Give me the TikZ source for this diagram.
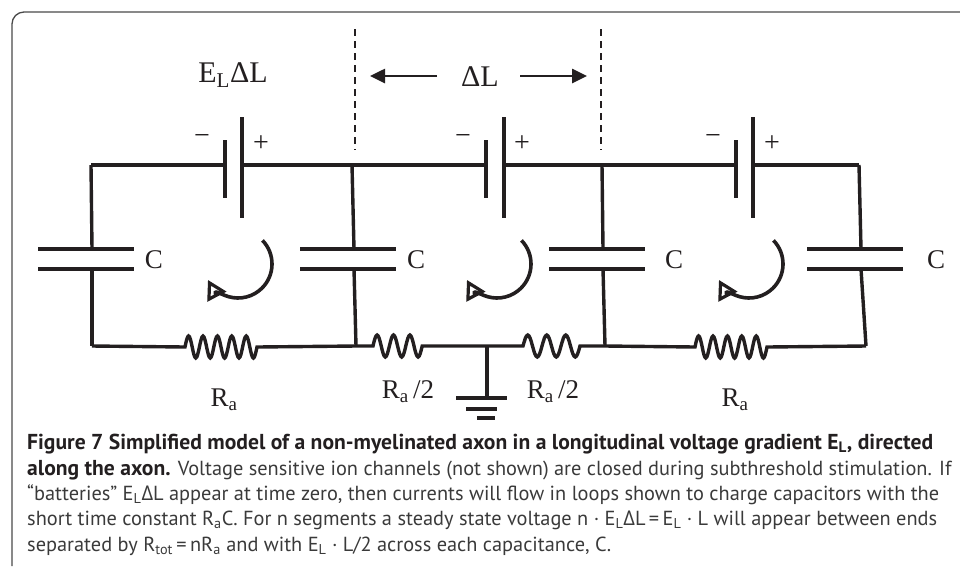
\documentclass[tikz,border=0pt]{standalone}
\usepackage{fontspec}
\setmainfont{Liberation Serif}
\newfontfamily\capfont{PT Sans}
\newfontfamily\grkfont{Open Sans}
\usetikzlibrary{arrows.meta}
\definecolor{ink}{HTML}{231F20}
\definecolor{captxt}{HTML}{3A3A3A}
\definecolor{framecol}{HTML}{4A4A4A}
\tikzset{
  wire/.style={line width=3.4pt, draw=ink},
  plate/.style={line width=4.4pt, draw=ink},
  bplate/.style={line width=3.6pt, draw=ink},
  dashline/.style={line width=2.7pt, draw=ink, dash pattern=on 7pt off 5pt},
  dimarrow/.style={line width=2.6pt, draw=ink, -{Triangle[length=15pt,width=14pt]}},
  looparrow/.style={line width=3.6pt, draw=ink, -{Triangle[open,length=19pt,width=21pt,line width=3.2pt]}},
  lbl/.style={font=\fontsize{27}{29}\selectfont, text=ink, inner sep=0pt},
  toplbl/.style={font=\fontsize{30}{32}\selectfont, text=ink, inner sep=0pt},
  sign/.style={font=\fontsize{28}{30}\selectfont, text=ink, inner sep=0pt},
  capline/.style={anchor=base west, inner sep=0pt, font=\capfont\fontsize{20.35}{24}\selectfont, text=captxt},
  framestyle/.style={line width=1.3pt, draw=framecol, rounded corners=12pt},
}
\newcommand{\bt}[1]{{\fontsize{21.6}{24}\selectfont\bfseries\color{ink}#1}}
\newcommand{\Dl}{{\grkfont Δ}}
\begin{document}
\begin{tikzpicture}[x=1pt,y=1pt]
\useasboundingbox (0,0) rectangle (960,-566);
% frame
\coordinate (fr1) at (960,-12);
\coordinate (fr2) at (12,-12);
\coordinate (fr3) at (12,-566);
\draw[framestyle] (fr1) -- (fr2) -- (fr3);

% top wire coordinates
\coordinate (t1) at (91,-165);
\coordinate (t2) at (352,-165);
\coordinate (t3) at (602,-165);
\coordinate (t4) at (859,-165);
% battery plates
\foreach \n/\xn/\xp in {1/225/242, 2/486/504, 3/736/753}{
  \coordinate (bn\n a) at (\xn,-140); \coordinate (bn\n b) at (\xn,-198);
  \coordinate (bp\n a) at (\xp,-117); \coordinate (bp\n b) at (\xp,-218);
  \coordinate (bn\n) at (\xn,-165); \coordinate (bp\n) at (\xp,-165);
  \draw[bplate] (bn\n a) -- (bn\n b);
  \draw[bplate] (bp\n a) -- (bp\n b);
}
\draw[wire] (t1) -- (bn1);
\draw[wire] (bp1) -- (t2) -- (bn2);
\draw[wire] (bp2) -- (t3) -- (bn3);
\draw[wire] (bp3) -- (t4);

% signs
\node[sign] (m1) at (202,-139) {−};
\node[sign] (m2) at (463,-139) {−};
\node[sign] (m3) at (713,-139) {−};
\node[sign] (p1) at (261,-144) {+};
\node[sign] (p2) at (522,-144) {+};
\node[sign] (p3) at (772,-144) {+};

% capacitors and verticals
\foreach \n/\xt/\xc/\xb/\xl in {1/91/92/92/154, 2/352/354/356/416, 3/602/603/605/674, 4/859/861/866/936}{
  \coordinate (ct\n) at (\xc,-249);
  \coordinate (cb\n) at (\xc,-269);
  \coordinate (ctl\n) at (\xc-54,-249); \coordinate (ctr\n) at (\xc+42,-249);
  \coordinate (cbl\n) at (\xc-54,-269); \coordinate (cbr\n) at (\xc+42,-269);
  \coordinate (vb\n) at (\xb,-346);
  \draw[wire] (\xt,-165) -- (ct\n);
  \draw[wire] (cb\n) -- (vb\n);
  \draw[plate] (ctl\n) -- (ctr\n);
  \draw[plate] (cbl\n) -- (cbr\n);
  \node[lbl] (cl\n) at (\xl,-260) {C};
}

% bottom wire with resistors
\coordinate (r1a) at (185,-347);
\coordinate (r2a) at (373,-346);
\coordinate (gj) at (487,-346);
\coordinate (r3a) at (523,-346);
\coordinate (r4a) at (695,-347);
\draw[wire] (vb1) -- (r1a)
  \foreach \k in {1,...,5}{ sin ++(3.6,11) cos ++(3.6,-11) sin ++(3.6,-11) cos ++(3.6,11) }
  -- (vb2) -- (r2a)
  \foreach \k in {1,...,3}{ sin ++(4.1,11) cos ++(4.1,-11) sin ++(4.1,-11) cos ++(4.1,11) }
  -- (gj) -- (r3a)
  \foreach \k in {1,...,3}{ sin ++(4.75,11) cos ++(4.75,-11) sin ++(4.75,-11) cos ++(4.75,11) }
  -- (vb3) -- (r4a)
  \foreach \k in {1,...,5}{ sin ++(3.6,11) cos ++(3.6,-11) sin ++(3.6,-11) cos ++(3.6,11) }
  -- (vb4);

% ground
\coordinate (gb) at (487,-398);
\draw[wire] (gj) -- (gb);
\coordinate (g1a) at (456,-398); \coordinate (g1b) at (507,-398);
\coordinate (g2a) at (466,-409); \coordinate (g2b) at (497,-409);
\coordinate (g3a) at (477,-418); \coordinate (g3b) at (495,-418);
\draw[plate] (g1a) -- (g1b);
\draw[plate] (g2a) -- (g2b);
\draw[plate] (g3a) -- (g3b);

% resistor labels
\node[lbl] (ra1) at (224,-400) {R\textsubscript{a}};
\node[lbl] (ra2) at (408,-392) {R\textsubscript{a}\,/2};
\node[lbl] (ra3) at (553,-392) {R\textsubscript{a}\,/2};
\node[lbl] (ra4) at (735,-400) {R\textsubscript{a}};

% dashed lines and dimension
\coordinate (d1a) at (355,-29); \coordinate (d1b) at (355,-150);
\coordinate (d2a) at (601,-29); \coordinate (d2b) at (601,-150);
\draw[dashline] (d1a) -- (d1b);
\draw[dashline] (d2a) -- (d2b);
\node[toplbl] (dl) at (480,-77) {ΔL};
\coordinate (al) at (370,-76);
\coordinate (ar) at (587,-76);
\coordinate (als) at (437,-76);
\coordinate (ars) at (520,-76);
\draw[dimarrow] (als) -- (al);
\draw[dimarrow] (ars) -- (ar);
\node[toplbl] (el) at (233,-75) {E\textsubscript{L}ΔL};

% loop arrows
\foreach \n/\cx in {1/238, 2/497, 3/749}{
  \coordinate (lc\n) at (\cx,-264);
  \draw[looparrow] ([shift={(44:34)}]lc\n) arc[start angle=44, end angle=-152, radius=34];
}

% caption
\node[capline] (c1) at (27,-449) {\bt{Figure 7 Simplified model of a non-myelinated axon in a longitudinal voltage gradient E\textsubscript{L}, directed}};
\node[capline] (c2) at (27,-475) {\bt{along the axon.} Voltage sensitive ion channels (not shown) are closed during subthreshold stimulation. If};
\node[capline] (c3) at (27,-500) {“batteries” E\textsubscript{L}\Dl L appear at time zero, then currents will flow in loops shown to charge capacitors with the};
\node[capline] (c4) at (27,-525) {short time constant R\textsubscript{a}C. For n segments a steady state voltage n · E\textsubscript{L}\Dl L\,=\,E\textsubscript{L} · L will appear between ends};
\node[capline] (c5) at (27,-551) {separated by R\textsubscript{tot}\,=\,nR\textsubscript{a} and with E\textsubscript{L} · L/2 across each capacitance, C.};
\end{tikzpicture}
\end{document}
